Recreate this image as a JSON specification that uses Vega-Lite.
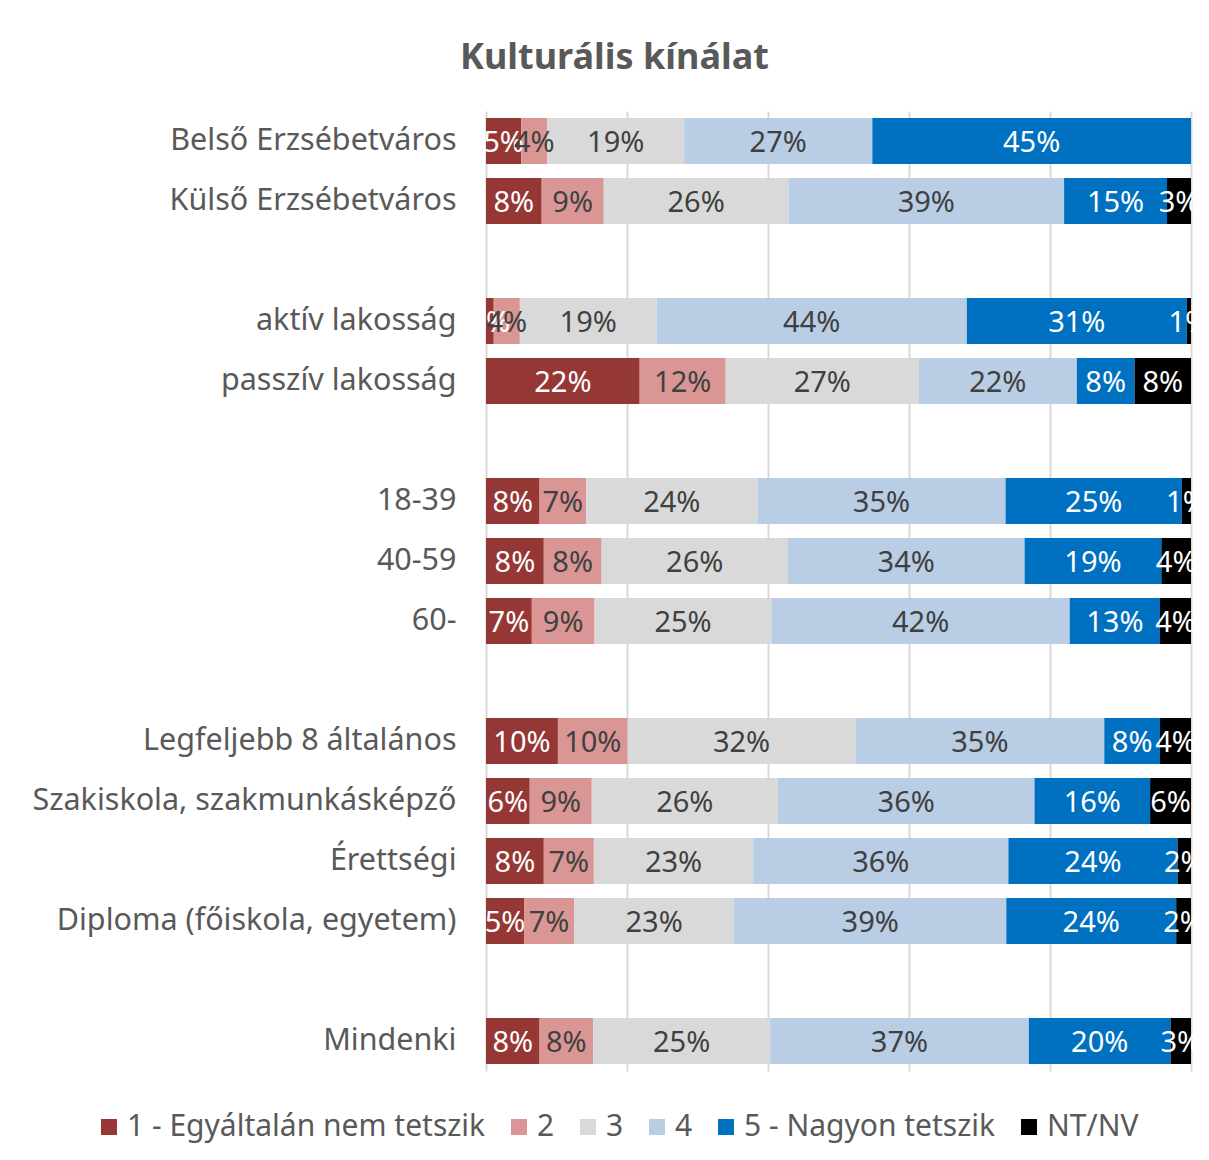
{
  "$schema": "https://vega.github.io/schema/vega-lite/v6.json",
  "autosize": {"type": "none"},
  "width": 705,
  "height": 960,
  "padding": {"left": 486, "top": 111, "right": 18, "bottom": 89},
  "background": "white",
  "config": {"view": {"stroke": null}},
  "title": {
    "text": "Kulturális kínálat",
    "fontSize": 36,
    "fontWeight": "bold",
    "color": "#595959",
    "font": "Noto Sans",
    "anchor": "middle",
    "dx": -224,
    "offset": 34
  },
  "data": {
    "values": [
      {"g": "Belső Erzsébetváros", "1 - Egyáltalán nem tetszik": 0.050, "2": 0.037, "3": 0.194, "4": 0.267, "5 - Nagyon tetszik": 0.452, "NT/NV": 0},
      {"g": "Külső Erzsébetváros", "1 - Egyáltalán nem tetszik": 0.079, "2": 0.088, "3": 0.262, "4": 0.391, "5 - Nagyon tetszik": 0.146, "NT/NV": 0.034},
      {"g": "aktív lakosság", "1 - Egyáltalán nem tetszik": 0.011, "2": 0.037, "3": 0.194, "4": 0.440, "5 - Nagyon tetszik": 0.312, "NT/NV": 0.006},
      {"g": "passzív lakosság", "1 - Egyáltalán nem tetszik": 0.218, "2": 0.122, "3": 0.274, "4": 0.224, "5 - Nagyon tetszik": 0.082, "NT/NV": 0.080},
      {"g": "18-39", "1 - Egyáltalán nem tetszik": 0.076, "2": 0.066, "3": 0.243, "4": 0.352, "5 - Nagyon tetszik": 0.250, "NT/NV": 0.013},
      {"g": "40-59", "1 - Egyáltalán nem tetszik": 0.082, "2": 0.082, "3": 0.264, "4": 0.336, "5 - Nagyon tetszik": 0.194, "NT/NV": 0.042},
      {"g": "60-", "1 - Egyáltalán nem tetszik": 0.065, "2": 0.089, "3": 0.251, "4": 0.423, "5 - Nagyon tetszik": 0.128, "NT/NV": 0.044},
      {"g": "Legfeljebb 8 általános", "1 - Egyáltalán nem tetszik": 0.102, "2": 0.099, "3": 0.323, "4": 0.353, "5 - Nagyon tetszik": 0.079, "NT/NV": 0.044},
      {"g": "Szakiskola, szakmunkásképző", "1 - Egyáltalán nem tetszik": 0.062, "2": 0.088, "3": 0.264, "4": 0.364, "5 - Nagyon tetszik": 0.164, "NT/NV": 0.058},
      {"g": "Érettségi", "1 - Egyáltalán nem tetszik": 0.082, "2": 0.071, "3": 0.226, "4": 0.362, "5 - Nagyon tetszik": 0.240, "NT/NV": 0.019},
      {"g": "Diploma (főiskola, egyetem)", "1 - Egyáltalán nem tetszik": 0.054, "2": 0.071, "3": 0.227, "4": 0.386, "5 - Nagyon tetszik": 0.241, "NT/NV": 0.021},
      {"g": "Mindenki", "1 - Egyáltalán nem tetszik": 0.076, "2": 0.076, "3": 0.251, "4": 0.367, "5 - Nagyon tetszik": 0.201, "NT/NV": 0.029}
    ]
  },
  "transform": [
    {"fold": ["1 - Egyáltalán nem tetszik", "2", "3", "4", "5 - Nagyon tetszik", "NT/NV"], "as": ["key", "value"]},
    {"filter": "datum.value > 0"},
    {"stack": "value", "groupby": ["g"], "sort": [{"field": "key", "order": "ascending"}], "as": ["x0", "x1"]},
    {"calculate": "(datum.x0 + datum.x1) / 2", "as": "xm"}
  ],
  "encoding": {
    "y": {
      "field": "g",
      "type": "nominal",
      "scale": {
        "domain": ["Belső Erzsébetváros", "Külső Erzsébetváros", " ", "aktív lakosság", "passzív lakosság", "  ", "18-39", "40-59", "60-", "   ", "Legfeljebb 8 általános", "Szakiskola, szakmunkásképző", "Érettségi", "Diploma (főiskola, egyetem)", "    ", "Mindenki"],
        "paddingInner": 0.233,
        "paddingOuter": 0.117
      },
      "axis": {
        "title": null,
        "domain": false,
        "ticks": false,
        "labelFontSize": 30.5,
        "labelFont": "Noto Sans",
        "labelColor": "#595959",
        "labelPadding": 30,
        "labelLimit": 600
      }
    }
  },
  "layer": [
    {
      "mark": {"type": "bar"},
      "encoding": {
        "x": {
          "field": "x0",
          "type": "quantitative",
          "scale": {"domain": [0, 1]},
          "axis": {
            "title": null,
            "values": [0, 0.2, 0.4, 0.6, 0.8, 1],
            "labels": false,
            "ticks": false,
            "domain": false,
            "grid": true,
            "gridColor": "#D9D9D9",
            "gridWidth": 2
          }
        },
        "x2": {"field": "x1"},
        "color": {
          "field": "key",
          "type": "nominal",
          "scale": {
            "domain": ["1 - Egyáltalán nem tetszik", "2", "3", "4", "5 - Nagyon tetszik", "NT/NV"],
            "range": ["#953735", "#D99694", "#D9D9D9", "#B9CDE5", "#0070C0", "#000000"]
          },
          "legend": {
            "title": null,
            "orient": "none",
            "direction": "horizontal",
            "legendX": -392,
            "legendY": 1001,
            "symbolType": "square",
            "symbolSize": 256,
            "symbolStrokeWidth": 0,
            "labelFontSize": 30,
            "labelFont": "Noto Sans",
            "labelColor": "#595959",
            "labelOffset": 3,
            "columnPadding": 18,
            "labelLimit": 600
          }
        }
      }
    },
    {
      "mark": {"type": "text", "fontSize": 29, "font": "Noto Sans", "align": "center", "baseline": "middle", "dy": 2},
      "encoding": {
        "x": {"field": "xm", "type": "quantitative"},
        "text": {"field": "value", "type": "quantitative", "format": ".0%"},
        "color": {
          "condition": {"test": "datum.key == '2' || datum.key == '3' || datum.key == '4'", "value": "#404040"},
          "value": "#FFFFFF"
        }
      }
    }
  ]
}
